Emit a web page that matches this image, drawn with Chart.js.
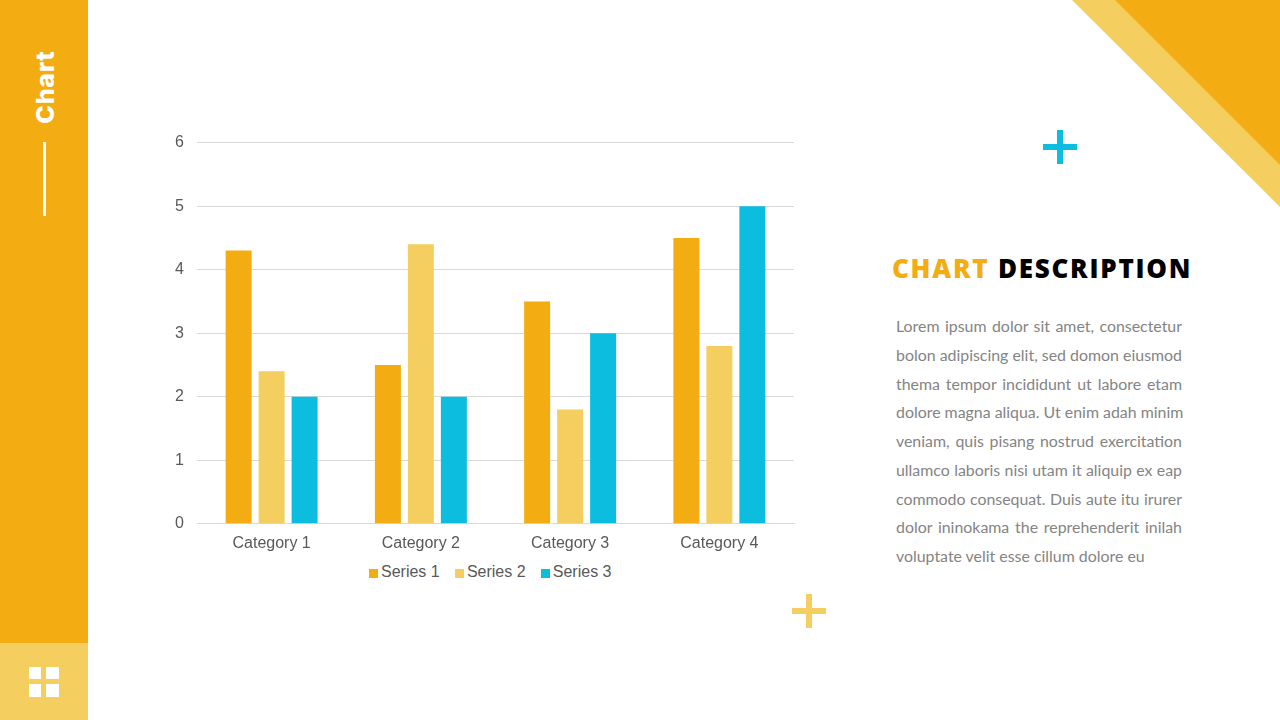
<!DOCTYPE html>
<html>
<head>
<meta charset="utf-8">
<title>Chart</title>
<script src="https://cdn.jsdelivr.net/npm/chart.js@4"></script>
<style>
html, body { margin: 0; padding: 0; background: #fff; }
#page { position: relative; width: 1280px; height: 720px; overflow: hidden; }
.abs { position: absolute; }
#chartBox { position: absolute; left: 150px; top: 120px; width: 650px; height: 441px; }
#leyenda { position: absolute; left: 369px; top: 562px; height: 20px; display: flex; align-items: center; font: 16px/20px "Liberation Sans", Arial, sans-serif; color: #595959; white-space: nowrap; }
#leyenda .item { display: flex; align-items: center; margin-right: 15.2px; }
#leyenda i { display: block; width: 9px; height: 9px; margin-right: 3px; margin-top: 2px; }
#sideTitle { position: absolute; left: 45px; top: 86.5px; transform: translate(-50%, -50%) rotate(-90deg);
  font: 800 25px Inter, sans-serif; letter-spacing: 0.7px; color: #fff; white-space: nowrap; }
#heading { position: absolute; left: 892px; top: 250px; font: 800 26px "Open Sans", sans-serif; letter-spacing: 1.75px; white-space: nowrap; color: #000; }
#heading span { color: #F3AC12; }
#desc { position: absolute; left: 896px; top: 312px; width: 286px; font: 15.9px/28.75px Lato, sans-serif; color: #848484; }
#desc div { text-align: justify; text-align-last: justify; white-space: nowrap; }
#desc div:last-child { text-align-last: left; }
</style>
</head>
<body>
<div id="page">
  <div class="abs" style="left:0;top:0;width:88px;height:643px;background:#F3AC12"></div>
  <div class="abs" style="left:0;top:643px;width:88px;height:77px;background:#F4CE5F"></div>
  <div id="sideTitle">Chart</div>
  <div class="abs" style="left:43px;top:142px;width:3px;height:74px;background:#fff"></div>
  <div class="abs" style="left:29px;top:667px;width:12px;height:12px;background:#fff"></div>
  <div class="abs" style="left:46px;top:667px;width:13px;height:12px;background:#fff"></div>
  <div class="abs" style="left:29px;top:684px;width:12px;height:13px;background:#fff"></div>
  <div class="abs" style="left:46px;top:684px;width:13px;height:13px;background:#fff"></div>

  <div class="abs" style="left:1072px;top:0;width:208px;height:207px;background:#F4CE5F;clip-path:polygon(0 0,100% 0,100% 100%)"></div>
  <div class="abs" style="left:1115px;top:0;width:165px;height:165px;background:#F3AC12;clip-path:polygon(0 0,100% 0,100% 100%)"></div>

  <div class="abs" style="left:1043px;top:144px;width:34px;height:6px;background:#0DBDE0"></div>
  <div class="abs" style="left:1057px;top:130px;width:6px;height:34px;background:#0DBDE0"></div>
  <div class="abs" style="left:792px;top:608px;width:34px;height:6px;background:#F4CE5F"></div>
  <div class="abs" style="left:806px;top:594px;width:6px;height:34px;background:#F4CE5F"></div>

  <div id="chartBox"><canvas id="grafica"></canvas></div>
  <div id="leyenda"></div>

  <div id="heading"><span>CHART</span> DESCRIPTION</div>
  <div id="desc"></div>
</div>
<script>
const categorias = ["Category 1", "Category 2", "Category 3", "Category 4"];
const serie1 = [4.3, 2.5, 3.5, 4.5];
const serie2 = [2.4, 4.4, 1.8, 2.8];
const serie3 = [2, 2, 3, 5];
const nombres = ["Series 1", "Series 2", "Series 3"];
const colores = ["#F3AC12", "#F4CE5F", "#0DBDE0"];
const lineas = [
  "Lorem ipsum dolor sit amet, consectetur",
  "bolon adipiscing elit, sed domon eiusmod",
  "thema tempor incididunt ut labore etam",
  "dolore magna aliqua. Ut enim adah minim",
  "veniam, quis pisang nostrud exercitation",
  "ullamco laboris nisi utam it aliquip ex eap",
  "commodo consequat. Duis aute itu irurer",
  "dolor ininokama the reprehenderit inilah",
  "voluptate velit esse cillum dolore eu"
];

// Texto de la derecha, una línea por div para conservar los cortes
const desc = document.getElementById("desc");
lineas.forEach(t => {
  const d = document.createElement("div");
  d.textContent = t;
  desc.appendChild(d);
});

// Leyenda en HTML: la de Chart.js deja demasiado hueco entre cuadro y texto
const leyenda = document.getElementById("leyenda");
nombres.forEach((n, i) => {
  const item = document.createElement("div");
  item.className = "item";
  const cuadro = document.createElement("i");
  cuadro.style.background = colores[i];
  item.appendChild(cuadro);
  item.appendChild(document.createTextNode(n));
  leyenda.appendChild(item);
});

const valores = [serie1, serie2, serie3];
const fuente = { family: "'Liberation Sans', Arial, sans-serif", size: 16 };

new Chart(document.getElementById("grafica"), {
  type: "bar",
  data: {
    labels: categorias,
    datasets: nombres.map((n, i) => ({
      label: n,
      data: valores[i],
      backgroundColor: colores[i],
      barPercentage: 0.788,
      categoryPercentage: 0.663
    }))
  },
  options: {
    responsive: true,
    maintainAspectRatio: false,
    animation: false,
    layout: { padding: { top: 18, right: 6, left: 0, bottom: 6 } },
    plugins: {
      tooltip: { enabled: false },
      legend: { display: false }
    },
    scales: {
      x: {
        grid: { display: false },
        border: { color: "#d9d9d9" },
        ticks: { font: fuente, color: "#595959", padding: 2 }
      },
      y: {
        min: 0,
        max: 6,
        afterFit: s => { s.width = 47; },
        grid: { color: "#d9d9d9", drawTicks: false },
        border: { display: false },
        ticks: { stepSize: 1, font: fuente, color: "#595959", padding: 13 }
      }
    }
  }
});
</script>
</body>
</html>
